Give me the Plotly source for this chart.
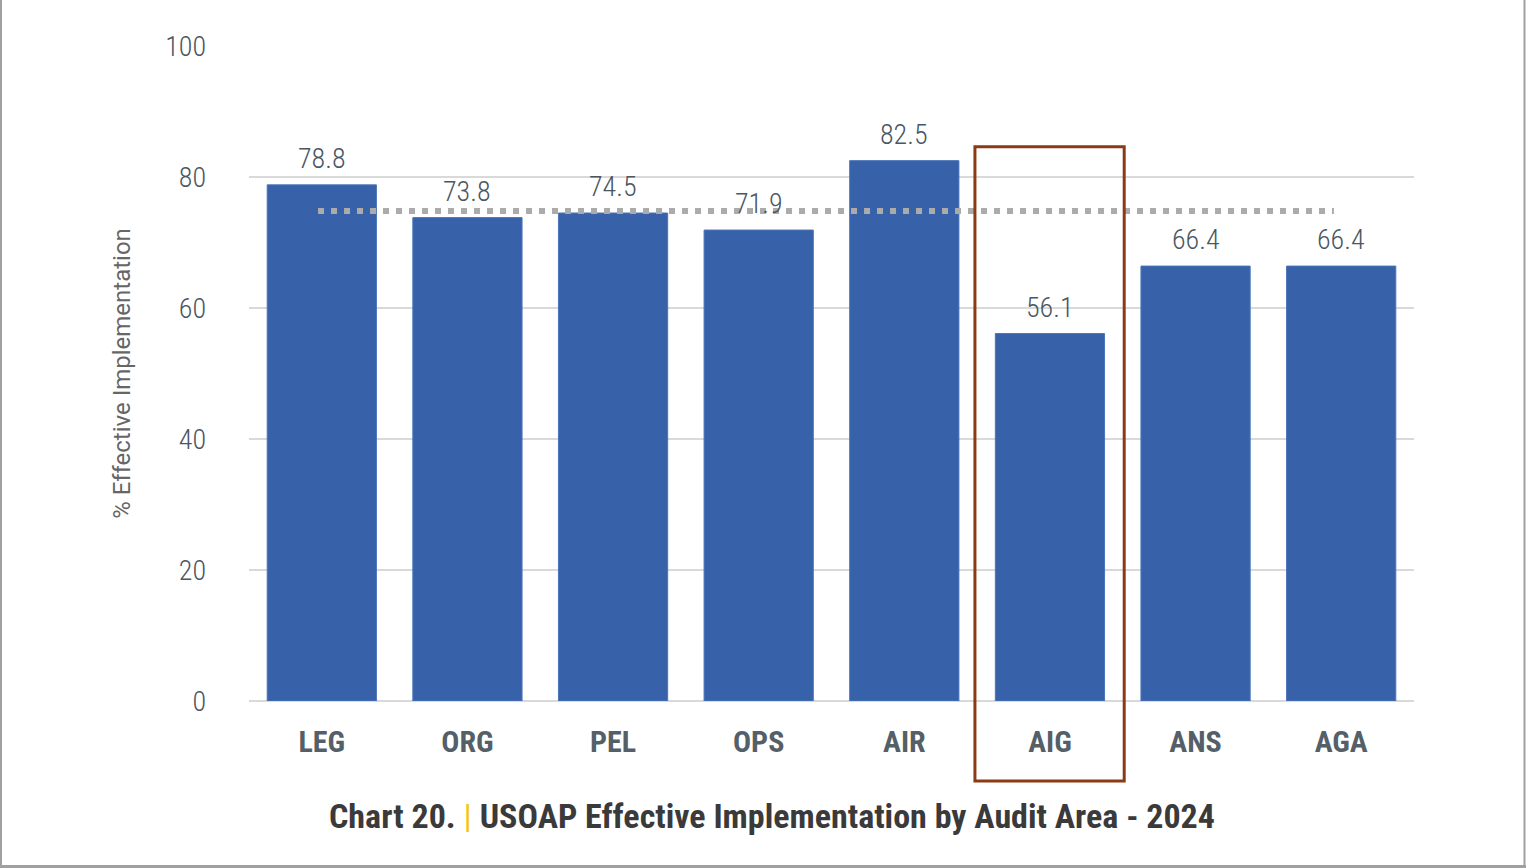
import plotly.graph_objects as go

categories = ["LEG", "ORG", "PEL", "OPS", "AIR", "AIG", "ANS", "AGA"]
values = [78.8, 73.8, 74.5, 71.9, 82.5, 56.1, 66.4, 66.4]
average_value = 74.8
y_ticks = [0, 20, 40, 60, 80, 100]
highlight = "AIG"

W, H = 1526, 868
L, R, T, B = 249, 112, 46, 167
pw, ph = W - L - R, H - T - B
XMIN, XMAX = -0.5, len(categories) - 0.5
YMIN, YMAX = 0, 100

NUM_FONT = "Roboto Condensed, Roboto, sans-serif"
idx = list(range(len(categories)))
fig = go.Figure()
fig.add_trace(go.Bar(
    x=idx, y=values, width=0.75,
    marker=dict(color="#3762AA", line=dict(color="#4a74b8", width=1)),
    showlegend=False, hoverinfo="skip",
))
for i, v in zip(idx, values):
    fig.add_annotation(x=i, y=v, text=f"{v:.1f}", showarrow=False, yanchor="bottom",
                       yshift=8, font=dict(family=NUM_FONT, size=28, color="#4a5662", weight=300))
fig.add_trace(go.Scatter(
    x=[idx[0] - 0.026, idx[-1] - 0.05], y=[average_value, average_value], mode="lines",
    line=dict(color="#ababab", width=6, dash="6px,7px"),
    showlegend=False, hoverinfo="skip",
))

def xpaper(xd): return (xd - XMIN) / (XMAX - XMIN)
def ypaper(yd): return (yd - YMIN) / (YMAX - YMIN)

hi = categories.index(highlight)
fig.add_shape(type="rect", xref="paper", yref="paper",
              x0=xpaper(hi - 0.515), x1=xpaper(hi + 0.51), y0=ypaper(-12.2), y1=ypaper(84.6),
              line=dict(color="#8B3A14", width=3), fillcolor="rgba(0,0,0,0)", layer="above")

# page border
def px(xp): return (xp - L) / pw
def py(yp): return (H - B - yp) / ph
fig.add_shape(type="line", xref="paper", yref="paper", x0=px(1), x1=px(1), y0=py(0), y1=py(868),
              line=dict(color="#a0a0a0", width=2))
fig.add_shape(type="line", xref="paper", yref="paper", x0=px(1524.5), x1=px(1524.5), y0=py(0), y1=py(868),
              line=dict(color="#a0a0a0", width=2))
fig.add_shape(type="line", xref="paper", yref="paper", x0=px(0), x1=px(1526), y0=py(866.5), y1=py(866.5),
              line=dict(color="#a0a0a0", width=3))

fig.add_annotation(
    xref="paper", yref="paper", x=px(772), y=py(816), xanchor="center", yanchor="middle",
    text="<b>Chart 20. </b><span style='color:#F5C518'>|</span><b> USOAP Effective Implementation by Audit Area - 2024</b>",
    showarrow=False, font=dict(family="Roboto Condensed, Roboto, sans-serif", size=34, color="#3a3a3a"),
)

fig.update_layout(
    width=W, height=H, margin=dict(l=L, r=R, t=T, b=B),
    paper_bgcolor="white", plot_bgcolor="white",
    xaxis=dict(tickmode="array", tickvals=idx, ticktext=[f"<b>{c}</b>" for c in categories],
               range=[XMIN, XMAX],
               tickfont=dict(family="Roboto Condensed, Roboto, sans-serif", size=30, color="#555f68"),
               showgrid=False, zeroline=False, ticks="", ticklabelstandoff=20),
    yaxis=dict(range=[YMIN, YMAX], tickvals=y_ticks, showgrid=True, gridcolor="#d9d9d9", gridwidth=2,
               zeroline=True, zerolinecolor="#d9d9d9", zerolinewidth=2,
               tickfont=dict(family=NUM_FONT, size=28, color="#4a5662", weight=300),
               ticklabelstandoff=42,
               title=dict(text="% Effective Implementation", standoff=27,
                          font=dict(family="Roboto, sans-serif", size=24, color="#666666"))),
)
fig.write_html("out.html", config={"displayModeBar": False},
               post_script="document.body.style.margin='0px';")
